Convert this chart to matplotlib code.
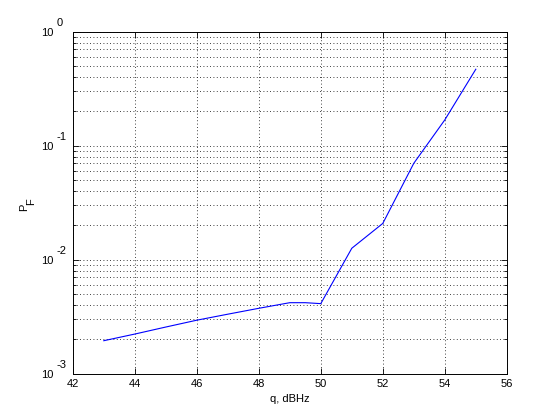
import matplotlib
matplotlib.use("Agg")
import matplotlib.pyplot as plt
from matplotlib.ticker import LogLocator, FixedLocator, NullFormatter

q = [43, 44, 45, 46, 47, 48, 49, 49.5, 50, 51, 52, 53, 54, 55]
pf = [1.95e-3, 2.23e-3, 2.57e-3, 2.95e-3, 3.33e-3, 3.75e-3, 4.2e-3, 4.2e-3, 4.12e-3,
      1.26e-2, 2.08e-2, 7.0e-2, 0.168, 0.467]
xticks = [42, 44, 46, 48, 50, 52, 54, 56]
yticks = [1e-3, 1e-2, 1e-1, 1e0]
yexp = ['-3', '-2', '-1', '0']

plt.rcParams['font.family'] = ['Liberation Sans', 'DejaVu Sans']
plt.rcParams['font.size'] = 8

fig = plt.figure(figsize=(5.6, 4.2), dpi=100)
ax = fig.add_axes([0.13, 0.11, 0.775, 0.815])
ax.plot(q, pf, color=(0, 0, 1), linewidth=0.8)
ax.set_yscale('log')
ax.set_xlim(42, 56)
ax.set_ylim(1e-3, 1e0)
ax.set_xticks(xticks)
ax.set_xticklabels([str(t) for t in xticks])
ax.yaxis.set_major_locator(FixedLocator(yticks))
ax.set_yticklabels([''] * len(yticks))
ax.yaxis.set_minor_locator(LogLocator(base=10, subs=range(2, 10)))
ax.yaxis.set_minor_formatter(NullFormatter())
for v, e in zip(yticks, yexp):
    ax.annotate('10', xy=(0, v), xycoords=('axes fraction', 'data'),
                xytext=(-19.5, -1), textcoords='offset pixels',
                ha='right', va='center', fontsize=8, annotation_clip=False)
    ax.annotate(e, xy=(0, v), xycoords=('axes fraction', 'data'),
                xytext=(-16.5, 9), textcoords='offset pixels',
                ha='left', va='center', fontsize=8, annotation_clip=False)
dot = (0, (1, 3))
ax.grid(True, which='major', axis='both', color='k', linestyle=dot, linewidth=0.6)
ax.grid(True, which='minor', axis='y', color='k', linestyle=dot, linewidth=0.6)
ax.tick_params(which='both', direction='in', top=True, right=True, width=0.6)
ax.tick_params(which='major', length=4)
ax.tick_params(which='minor', length=2)
for s in ax.spines.values():
    s.set_linewidth(0.7)
ax.set_xlabel('q, dBHz')
fig.text(24.2 / 560, 1 - 207.5 / 420, 'P', rotation=90, ha='center', va='center', fontsize=8)
fig.text(31.0 / 560, 1 - 201.5 / 420, 'F', rotation=90, ha='center', va='center', fontsize=8)
fig.savefig('out.png', dpi=100)
